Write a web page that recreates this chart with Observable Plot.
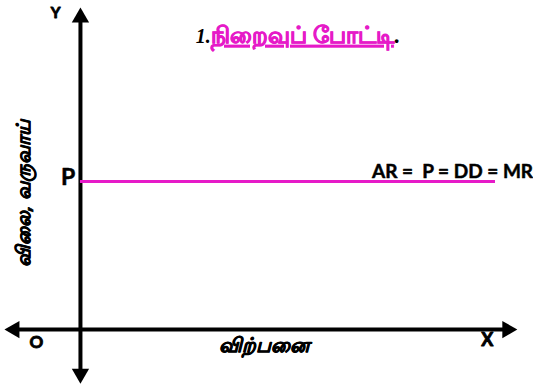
<!DOCTYPE html>
<html>
<head>
<meta charset="utf-8">
<script src="https://cdn.jsdelivr.net/npm/d3@7"></script>
<script src="https://cdn.jsdelivr.net/npm/@observablehq/plot@0.6"></script>
<style>
  html, body { margin: 0; padding: 0; background: #fff; }
  #chart svg { display: block; }
</style>
</head>
<body>
<div id="chart"></div>
<script>
// ---- data (schematic units: quantity on x, price on y, origin = 0) ----
const xDomain = [-18.3, 103.7];
const yDomain = [-18, 102.2];
const xAxisEnds = [-17.4, 100];   // left tip, right tip of the quantity axis
const yAxisEnds = [-16.8, 100];   // bottom tip, top tip of the price axis
const price = 46;                  // P
const demandEnd = 95;              // end of AR = P = DD = MR line
const titleParts = ["1.", "நிறைவுப் போட்டி", "."];
const yLabel = "விலை, வருவாய்";
const xLabel = "விற்பனை";
const curveLabel = "AR =  P = DD = MR";
const magenta = "#e61ac8";

const W = 533, H = 387;
const pxX = W / (xDomain[1] - xDomain[0]);
const pxY = H / (yDomain[1] - yDomain[0]);
const head = 10; // px from tip to triangle centroid
const hx = head / pxX, hy = head / pxY;

const axisLines = [
  {x1: xAxisEnds[0] + hx, y1: 0, x2: xAxisEnds[1] - hx, y2: 0},
  {x1: 0, y1: yAxisEnds[0] + hy, x2: 0, y2: yAxisEnds[1] - hy}
];
const heads = [
  {x: xAxisEnds[0] + hx, y: 0, rot: 270},
  {x: xAxisEnds[1] - hx, y: 0, rot: 90},
  {x: 0, y: yAxisEnds[0] + hy, rot: 180},
  {x: 0, y: yAxisEnds[1] - hy, rot: 0}
];

const latin = "Lato, 'Open Sans', sans-serif";
const boldLatin = {fontFamily: latin, fontWeight: "bold", fill: "black", stroke: "black", strokeWidth: 0.5};
const heavyLatin = {...boldLatin, strokeWidth: 0.9};

const chart = Plot.plot({
  width: W, height: H,
  marginTop: 0, marginRight: 0, marginBottom: 0, marginLeft: 0,
  x: {domain: xDomain, axis: null},
  y: {domain: yDomain, axis: null},
  style: {background: "#fff", overflow: "visible"},
  marks: [
    Plot.link(axisLines, {x1: "x1", y1: "y1", x2: "x2", y2: "y2", stroke: "black", strokeWidth: 4}),
    Plot.dot(heads, {x: "x", y: "y", rotate: "rot", symbol: "triangle", r: 6.43, fill: "black", stroke: "none"}),
    Plot.ruleY([price], {x1: 0, x2: demandEnd, stroke: magenta, strokeWidth: 3}),
    Plot.text(["Y"], {x: -5.7, y: 98.4, fontSize: 15, ...heavyLatin}),
    Plot.text(["P"], {x: -1.2, y: price + 1.2, textAnchor: "end", fontSize: 23, ...boldLatin}),
    Plot.text(["O"], {x: -10.1, y: -4.0, fontSize: 17, ...heavyLatin}),
    Plot.text(["X"], {x: 93.1, y: -3.4, fontSize: 18, ...heavyLatin}),
    Plot.text([xLabel], {x: 41.9, y: -5.0, fontWeight: "bold", fontStyle: "italic", fontSize: 20, fill: "black", stroke: "black", strokeWidth: 0.7}),
    Plot.text([yLabel], {x: -12.9, y: 42.2, rotate: -90, fontWeight: "bold", fontStyle: "italic", fontSize: 19, fill: "black", stroke: "black", strokeWidth: 0.7}),
    Plot.text([curveLabel], {x: 103.6, y: 49.1, textAnchor: "end", fontSize: 19, ...boldLatin}),
    Plot.text([titleParts.join("")], {x: 49.7, y: 91.3, fontWeight: "bold", fontSize: 23, fill: magenta})
  ]
});

// style the title as mixed runs: black italic "1.", magenta underlined Tamil, black "."
d3.select(chart).selectAll("text").filter(function() {
  return this.textContent === titleParts.join("");
}).each(function() {
  const t = d3.select(this);
  t.text(null);
  t.append("tspan").text(titleParts[0]).attr("fill", "black")
    .attr("font-family", "'Liberation Serif', serif").attr("font-style", "italic").attr("font-size", 20);
  t.append("tspan").text(titleParts[1]).attr("fill", magenta).attr("text-decoration", "underline")
    .attr("stroke", magenta).attr("stroke-width", 0.7);
  t.append("tspan").text(titleParts[2]).attr("fill", "black").attr("font-family", "'Liberation Serif', serif");
});

document.getElementById("chart").appendChild(chart);
</script>
</body>
</html>
